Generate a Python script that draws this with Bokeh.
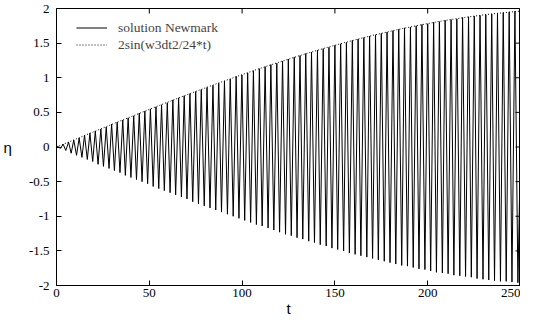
import math
from bokeh.plotting import figure
from bokeh.models import FixedTicker, Legend, LegendItem
from bokeh.embed import file_html
from bokeh.resources import INLINE

# Newmark solution: extrema (t, eta)
newmark_t = [0,0.7,2.1,3.6,5,6.5,7.9,9.3,10.8,12.2,13.7,15.1,16.6,18,19.5,20.9,22.4,23.9,25.3,26.8,28.3,29.7,31.2,32.7,34.2,35.7,37.1,38.6,40.1,41.6,43.1,44.6,46.1,47.6,49.1,50.6,52.1,53.6,55.1,56.6,58.1,59.7,61.2,62.7,64.2,65.8,67.3,68.8,70.3,71.9,73.4,75,76.5,78,79.6,81.1,82.7,84.3,85.8,87.4,88.9,90.5,92.1,93.6,95.2,96.8,98.3,99.9,101.4,103,104.6,106.1,107.7,109.3,110.8,112.4,114,115.5,117.1,118.7,120.2,121.8,123.4,124.9,126.5,128.1,129.6,131.2,132.7,134.3,135.9,137.4,139,140.6,142.1,143.7,145.3,146.8,148.4,150,151.5,153.1,154.7,156.2,157.8,159.4,160.9,162.5,164,165.6,167.2,168.7,170.3,171.9,173.4,175,176.6,178.1,179.7,181.3,182.8,184.4,186,187.5,189.1,190.7,192.2,193.8,195.3,196.9,198.5,200,201.6,203.2,204.7,206.3,207.9,209.4,211,212.6,214.1,215.7,217.3,218.8,220.4,222,223.5,225.1,226.6,228.2,229.8,231.3,232.9,234.5,236,237.6,239.2,240.7,242.3,243.9,245.4,247,248.6,250]
newmark_eta = [0,0.01,-0.02,0.04,-0.05,0.07,-0.09,0.1,-0.12,0.13,-0.15,0.17,-0.18,0.2,-0.21,0.23,-0.25,0.26,-0.28,0.29,-0.31,0.33,-0.34,0.36,-0.37,0.39,-0.41,0.42,-0.44,0.45,-0.47,0.49,-0.5,0.52,-0.53,0.55,-0.57,0.58,-0.6,0.61,-0.63,0.64,-0.66,0.68,-0.69,0.71,-0.72,0.74,-0.75,0.77,-0.79,0.8,-0.82,0.83,-0.85,0.86,-0.88,0.89,-0.91,0.92,-0.94,0.95,-0.97,0.98,-1,1.02,-1.03,1.04,-1.06,1.07,-1.09,1.1,-1.12,1.13,-1.14,1.16,-1.17,1.19,-1.2,1.21,-1.23,1.24,-1.26,1.27,-1.28,1.3,-1.31,1.32,-1.33,1.35,-1.36,1.37,-1.38,1.4,-1.41,1.42,-1.43,1.44,-1.46,1.47,-1.48,1.49,-1.5,1.51,-1.53,1.54,-1.55,1.56,-1.57,1.58,-1.59,1.6,-1.61,1.62,-1.63,1.64,-1.65,1.66,-1.67,1.68,-1.69,1.7,-1.71,1.72,-1.72,1.73,-1.74,1.75,-1.76,1.77,-1.77,1.78,-1.79,1.8,-1.81,1.81,-1.82,1.83,-1.83,1.84,-1.85,1.85,-1.86,1.87,-1.87,1.88,-1.88,1.89,-1.9,1.9,-1.91,1.91,-1.92,1.92,-1.93,1.93,-1.94,1.94,-1.94,1.95,-1.95,1.96,-1.96,0]

# envelope 2sin(w3dt2/24*t)
env_t = [0,5,10,15,20,25,30,35,40,45,50,55,60,65,70,75,80,85,90,95,100,105,110,115,120,125,130,135,140,145,150,155,160,165,170,175,180,185,190,195,200,205,210,215,220,225,230,235,240,245,250]
env_eta = [0,0.055,0.11,0.165,0.22,0.274,0.329,0.383,0.436,0.49,0.543,0.596,0.648,0.7,0.751,0.802,0.852,0.901,0.95,0.998,1.045,1.092,1.138,1.182,1.226,1.269,1.311,1.352,1.392,1.431,1.469,1.506,1.541,1.576,1.609,1.641,1.672,1.702,1.73,1.757,1.782,1.807,1.83,1.851,1.871,1.89,1.907,1.923,1.937,1.95,1.962]

x_ticks = [0, 50, 100, 150, 200, 250]
y_ticks = [-2, -1.5, -1, -0.5, 0, 0.5, 1, 1.5, 2]
series_labels = ["solution Newmark", "2sin(w3dt2/24*t)"]
t_min, t_max, eta_min, eta_max = 0, 250, -2, 2

p = figure(width=520, height=319, x_range=(t_min, t_max), y_range=(eta_min, eta_max),
           output_backend="svg", toolbar_location=None,
           min_border_left=0, min_border_right=0, min_border_top=8, min_border_bottom=0)
p.xgrid.visible = False
p.ygrid.visible = False
p.outline_line_color = "black"
p.outline_line_width = 1
r1 = p.line(newmark_t, newmark_eta, line_color="black", line_width=1)
r2 = p.line(env_t, env_eta, line_color="black", line_width=1, line_dash="1 2")

# mirrored inward ticks on the top and right edges
p.scatter(x=x_ticks, y=[eta_max] * len(x_ticks), marker="dash", size=10,
          angle=math.pi / 2, line_color="black", line_width=1)
p.scatter(x=[t_max] * len(y_ticks), y=y_ticks, marker="dash", size=10,
          line_color="black", line_width=1)

for ax in (p.xaxis[0], p.yaxis[0]):
    ax.major_tick_in = 5
    ax.major_tick_out = 0
    ax.minor_tick_line_color = None
    ax.axis_line_color = "black"
    ax.major_tick_line_color = "black"
    ax.major_label_text_font = "Liberation Serif"
    ax.major_label_text_font_size = "13px"
    ax.major_label_text_color = "black"
    ax.axis_label_text_font = "Liberation Sans"
    ax.axis_label_text_font_style = "normal"
    ax.axis_label_text_font_size = "15px"
    ax.axis_label_text_color = "black"

p.xaxis.ticker = FixedTicker(ticks=x_ticks)
p.yaxis.ticker = FixedTicker(ticks=y_ticks)
p.yaxis.major_label_overrides = {v: ("%g" % v) for v in y_ticks}
p.xaxis.axis_label = "t"
p.yaxis.axis_label = "η"
p.yaxis.axis_label_orientation = "horizontal"
p.xaxis.major_label_standoff = 3
p.xaxis.axis_label_standoff = 0
p.yaxis.major_label_standoff = 7
p.yaxis.axis_label_standoff = 14

leg = Legend(items=[LegendItem(label=series_labels[0], renderers=[r1]),
                    LegendItem(label=series_labels[1], renderers=[r2])],
             location=(20, 232), border_line_color=None, background_fill_alpha=0,
             label_text_font="Liberation Serif", label_text_font_size="13.5px",
             glyph_width=31, label_standoff=11, spacing=0, padding=0, margin=0,
             label_height=17, glyph_height=17)
p.add_layout(leg)

open("out.html", "w").write(file_html(p, INLINE))
